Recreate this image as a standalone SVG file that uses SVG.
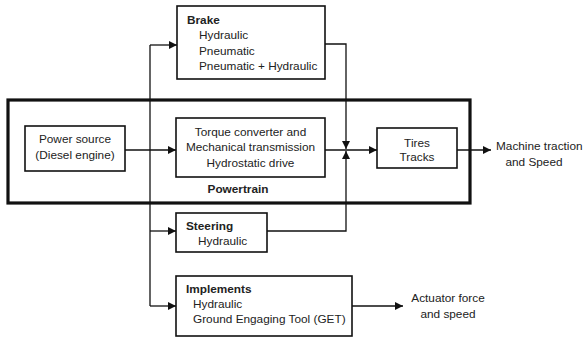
<svg xmlns="http://www.w3.org/2000/svg" width="584" height="338" viewBox="0 0 584 338">
  <style>
    .box { fill: #fff; stroke: #111; stroke-width: 1.6; }
    .frame { fill: none; stroke: #111; stroke-width: 3.2; }
    .wire { fill: none; stroke: #111; stroke-width: 1.3; }
    text { font-family: "Liberation Sans", Arial, sans-serif; font-size: 11.8px; fill: #222; }
    .b { font-weight: bold; }
    .c { text-anchor: middle; }
  </style>
  <defs>
    <marker id="arrow" viewBox="0 0 10 10" refX="10" refY="5" markerWidth="8" markerHeight="8" markerUnits="userSpaceOnUse" orient="auto">
      <path d="M0,0 L10,5 L0,10 Z" fill="#111"/>
    </marker>
  </defs>
  <rect width="584" height="338" fill="#fff"/>

  <!-- powertrain frame -->
  <g id="powertrain">
    <rect class="frame" x="8" y="100" width="462" height="103"/>
    <text class="b c" x="238" y="193">Powertrain</text>
  </g>

  <!-- connectors -->
  <g id="connectors">
    <!-- main branch from power source -->
    <path class="wire" d="M150,45 V306"/>
    <path class="wire" d="M150,45 H177" marker-end="url(#arrow)"/>
    <path class="wire" d="M125,150 H176" marker-end="url(#arrow)"/>
    <path class="wire" d="M150,231 H176" marker-end="url(#arrow)"/>
    <path class="wire" d="M150,306 H176" marker-end="url(#arrow)"/>
    <!-- brake and steering feed into the drive line -->
    <path class="wire" d="M325,44 H346 V149" marker-end="url(#arrow)"/>
    <path class="wire" d="M267,231 H346 V151" marker-end="url(#arrow)"/>
    <path class="wire" d="M325,150 H377" marker-end="url(#arrow)"/>
    <!-- outputs -->
    <path class="wire" d="M457,150 H491" marker-end="url(#arrow)"/>
    <path class="wire" d="M352,306 H403" marker-end="url(#arrow)"/>
  </g>

  <g id="brake">
    <rect class="box" x="177" y="6" width="148" height="73"/>
    <text class="b" x="187" y="24">Brake</text>
    <text x="199" y="39">Hydraulic</text>
    <text x="199" y="54.5">Pneumatic</text>
    <text x="199" y="70">Pneumatic + Hydraulic</text>
  </g>

  <g id="power-source">
    <rect class="box" x="25" y="126" width="100" height="45"/>
    <text class="c" x="75" y="143">Power source</text>
    <text class="c" x="75" y="159">(Diesel engine)</text>
  </g>

  <g id="transmission">
    <rect class="box" x="176" y="118" width="149" height="59"/>
    <text class="c" x="250.5" y="136">Torque converter and</text>
    <text class="c" x="250.5" y="151">Mechanical transmission</text>
    <text class="c" x="250.5" y="167">Hydrostatic drive</text>
  </g>

  <g id="tires">
    <rect class="box" x="377" y="128" width="80" height="40"/>
    <text class="c" x="417" y="147">Tires</text>
    <text class="c" x="417" y="161">Tracks</text>
  </g>

  <g id="traction-output">
    <text x="496" y="150">Machine traction</text>
    <text class="c" x="534" y="166">and Speed</text>
  </g>

  <g id="steering">
    <rect class="box" x="176" y="213" width="91" height="39"/>
    <text class="b" x="186" y="230">Steering</text>
    <text x="198" y="245">Hydraulic</text>
  </g>

  <g id="implements">
    <rect class="box" x="176" y="276" width="176" height="60"/>
    <text class="b" x="186" y="293">Implements</text>
    <text x="193" y="308">Hydraulic</text>
    <text x="193" y="323">Ground Engaging Tool (GET)</text>
  </g>

  <g id="actuator-output">
    <text class="c" x="448" y="302">Actuator force</text>
    <text class="c" x="448" y="318">and speed</text>
  </g>
</svg>
